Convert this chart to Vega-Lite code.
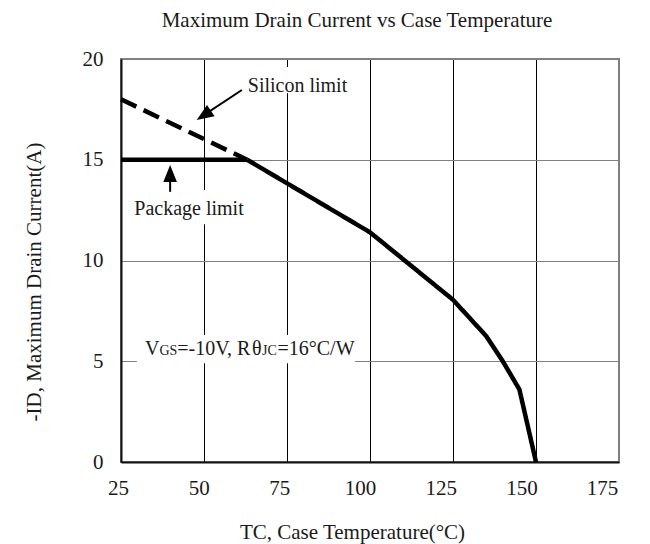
{
  "$schema": "https://vega.github.io/schema/vega-lite/v6.json",
  "width": 498,
  "height": 403,
  "autosize": "none",
  "padding": {"left": 121, "top": 59, "right": 31, "bottom": 82},
  "background": "white",
  "config": {
    "font": "Liberation Serif",
    "view": {"stroke": "#808080", "strokeWidth": 2}
  },
  "title": {
    "text": "Maximum Drain Current vs Case Temperature",
    "font": "Liberation Serif",
    "fontSize": 21,
    "fontWeight": "normal",
    "color": "#1a1a1a",
    "anchor": "middle",
    "frame": "group",
    "dx": -13,
    "baseline": "alphabetic",
    "offset": 0
  },
  "datasets": {
    "curves": [
      {"series": "Package", "T": 25, "I": 15},
      {"series": "Package", "T": 63, "I": 15},
      {"series": "Silicon", "T": 25, "I": 18},
      {"series": "Silicon", "T": 63, "I": 15},
      {"series": "Derating", "T": 63, "I": 15},
      {"series": "Derating", "T": 100, "I": 11.4},
      {"series": "Derating", "T": 125, "I": 8.05},
      {"series": "Derating", "T": 135, "I": 6.25},
      {"series": "Derating", "T": 140, "I": 5.0},
      {"series": "Derating", "T": 145, "I": 3.6},
      {"series": "Derating", "T": 150, "I": 0}
    ],
    "boxes": [
      {"name": "Silicon", "T0": 61.7, "T1": 94.6, "I0": 18.3, "I1": 19.6},
      {"name": "Package", "T0": 27.7, "T1": 63.3, "I0": 11.8, "I1": 13.5},
      {"name": "Cond", "T0": 29.8, "T1": 95.5, "I0": 4.9, "I1": 6.3}
    ],
    "labels": [
      {"text": "Silicon limit", "T": 78.16, "I": 18.38},
      {"text": "Package limit", "T": 45.48, "I": 12.26}
    ],
    "arrows": [
      {"name": "Silicon", "T0": 61.4, "I0": 18.46, "T1": 50.3, "I1": 17.25, "Tt": 47.8, "It": 16.97},
      {"name": "Package", "T0": 39.8, "I0": 13.41, "T1": 39.8, "I1": 14.1, "Tt": 39.8, "It": 14.74}
    ],
    "cond": [
      {"part": "p1", "text": "V", "T": 32.23, "I": 5.31},
      {"part": "p2", "text": "GS", "T": 32.23, "I": 5.31},
      {"part": "p3", "text": "=-10V, R", "T": 32.23, "I": 5.31},
      {"part": "p4", "text": "θ", "T": 32.23, "I": 5.31},
      {"part": "p5", "text": "JC", "T": 32.23, "I": 5.31},
      {"part": "p6", "text": "=16°C/W", "T": 32.23, "I": 5.31}
    ]
  },
  "layer": [
    {
      "data": {"name": "curves"},
      "mark": {"type": "line", "color": "black", "strokeWidth": 4.5},
      "encoding": {
        "x": {
          "field": "T",
          "type": "quantitative",
          "scale": {"domain": [25, 175], "nice": false, "zero": false},
          "axis": {
            "values": [25, 50, 75, 100, 125, 150, 175],
            "title": "TC, Case Temperature(°C)",
            "grid": true,
            "gridColor": {"condition": {"test": "datum.value === 175", "value": "#808080"}, "value": "black"},
            "gridWidth": 1,
            "ticks": false,
            "tickSize": 0,
            "domainColor": "#111",
            "domainWidth": 2,
            "labelFont": "Liberation Serif",
            "labelFontSize": 21,
            "labelColor": "#1a1a1a",
            "labelPadding": 15,
            "labelOffset": {"expr": "-3-(datum.value-25)*0.093"},
            "labelFlush": false,
            "labelOverlap": false,
            "titleFont": "Liberation Serif",
            "titleFontSize": 21,
            "titleFontWeight": "normal",
            "titleColor": "#1a1a1a",
            "titleX": 231,
            "titleY": 76,
            "titleAlign": "center",
            "titleBaseline": "alphabetic"
          }
        },
        "y": {
          "field": "I",
          "type": "quantitative",
          "scale": {"domain": [0, 20], "nice": false},
          "axis": {
            "values": [0, 5, 10, 15, 20],
            "title": "-ID, Maximum Drain Current(A)",
            "grid": true,
            "gridColor": "#808080",
            "gridWidth": 1,
            "ticks": false,
            "tickSize": 0,
            "domainColor": "#111",
            "domainWidth": 2,
            "labelFont": "Liberation Serif",
            "labelFontSize": 21,
            "labelColor": "#1a1a1a",
            "labelPadding": 18,
            "labelOverlap": false,
            "titleFont": "Liberation Serif",
            "titleFontSize": 21,
            "titleFontWeight": "normal",
            "titleColor": "#1a1a1a",
            "titleAngle": -90,
            "titleX": -81,
            "titleY": 222.5,
            "titleAlign": "center",
            "titleBaseline": "alphabetic"
          }
        },
        "detail": {"field": "series"},
        "strokeDash": {
          "field": "series",
          "type": "nominal",
          "scale": {"domain": ["Derating", "Package", "Silicon"], "range": [[1, 0], [1, 0], [17, 8]]},
          "legend": null
        }
      }
    },
    {
      "data": {"name": "boxes"},
      "mark": {"type": "rect", "fill": "white", "stroke": null},
      "encoding": {
        "x": {"field": "T0", "type": "quantitative"},
        "x2": {"field": "T1"},
        "y": {"field": "I0", "type": "quantitative"},
        "y2": {"field": "I1"}
      }
    },
    {
      "data": {"name": "labels"},
      "mark": {"type": "text", "font": "Liberation Serif", "fontSize": 20, "color": "#1a1a1a", "align": "center", "baseline": "alphabetic"},
      "encoding": {
        "x": {"field": "T", "type": "quantitative"},
        "y": {"field": "I", "type": "quantitative"},
        "text": {"field": "text"}
      }
    },
    {
      "data": {"name": "arrows"},
      "mark": {"type": "rule", "color": "black", "strokeWidth": 2},
      "encoding": {
        "x": {"field": "T0", "type": "quantitative"},
        "y": {"field": "I0", "type": "quantitative"},
        "x2": {"field": "T1"},
        "y2": {"field": "I1"}
      }
    },
    {
      "data": {"name": "arrows"},
      "transform": [{"filter": "datum.name === 'Silicon'"}],
      "mark": {"type": "point", "shape": "M0,0L0.8,2L-0.8,2Z", "size": 289, "filled": true, "color": "black", "opacity": 1, "strokeWidth": 0, "angle": 236},
      "encoding": {
        "x": {"field": "Tt", "type": "quantitative"},
        "y": {"field": "It", "type": "quantitative"}
      }
    },
    {
      "data": {"name": "arrows"},
      "transform": [{"filter": "datum.name === 'Package'"}],
      "mark": {"type": "point", "shape": "M0,0L0.8,2L-0.8,2Z", "size": 289, "filled": true, "color": "black", "opacity": 1, "strokeWidth": 0, "angle": 0},
      "encoding": {
        "x": {"field": "Tt", "type": "quantitative"},
        "y": {"field": "It", "type": "quantitative"}
      }
    },
    {
      "data": {"name": "cond"},
      "transform": [{"filter": "datum.part === 'p1'"}],
      "mark": {"type": "text", "font": "Liberation Serif", "fontSize": 20, "color": "#1a1a1a", "align": "left", "baseline": "alphabetic", "dx": 0},
      "encoding": {"x": {"field": "T", "type": "quantitative"}, "y": {"field": "I", "type": "quantitative"}, "text": {"field": "text"}}
    },
    {
      "data": {"name": "cond"},
      "transform": [{"filter": "datum.part === 'p2'"}],
      "mark": {"type": "text", "font": "Liberation Serif", "fontSize": 14, "color": "#1a1a1a", "align": "left", "baseline": "alphabetic", "dx": 14.4},
      "encoding": {"x": {"field": "T", "type": "quantitative"}, "y": {"field": "I", "type": "quantitative"}, "text": {"field": "text"}}
    },
    {
      "data": {"name": "cond"},
      "transform": [{"filter": "datum.part === 'p3'"}],
      "mark": {"type": "text", "font": "Liberation Serif", "fontSize": 20, "color": "#1a1a1a", "align": "left", "baseline": "alphabetic", "dx": 32.3},
      "encoding": {"x": {"field": "T", "type": "quantitative"}, "y": {"field": "I", "type": "quantitative"}, "text": {"field": "text"}}
    },
    {
      "data": {"name": "cond"},
      "transform": [{"filter": "datum.part === 'p4'"}],
      "mark": {"type": "text", "font": "Liberation Serif", "fontSize": 20, "color": "#1a1a1a", "align": "left", "baseline": "alphabetic", "dx": 107},
      "encoding": {"x": {"field": "T", "type": "quantitative"}, "y": {"field": "I", "type": "quantitative"}, "text": {"field": "text"}}
    },
    {
      "data": {"name": "cond"},
      "transform": [{"filter": "datum.part === 'p5'"}],
      "mark": {"type": "text", "font": "Liberation Serif", "fontSize": 14, "color": "#1a1a1a", "align": "left", "baseline": "alphabetic", "dx": 117},
      "encoding": {"x": {"field": "T", "type": "quantitative"}, "y": {"field": "I", "type": "quantitative"}, "text": {"field": "text"}}
    },
    {
      "data": {"name": "cond"},
      "transform": [{"filter": "datum.part === 'p6'"}],
      "mark": {"type": "text", "font": "Liberation Serif", "fontSize": 20, "color": "#1a1a1a", "align": "left", "baseline": "alphabetic", "dx": 132.5},
      "encoding": {"x": {"field": "T", "type": "quantitative"}, "y": {"field": "I", "type": "quantitative"}, "text": {"field": "text"}}
    }
  ]
}
